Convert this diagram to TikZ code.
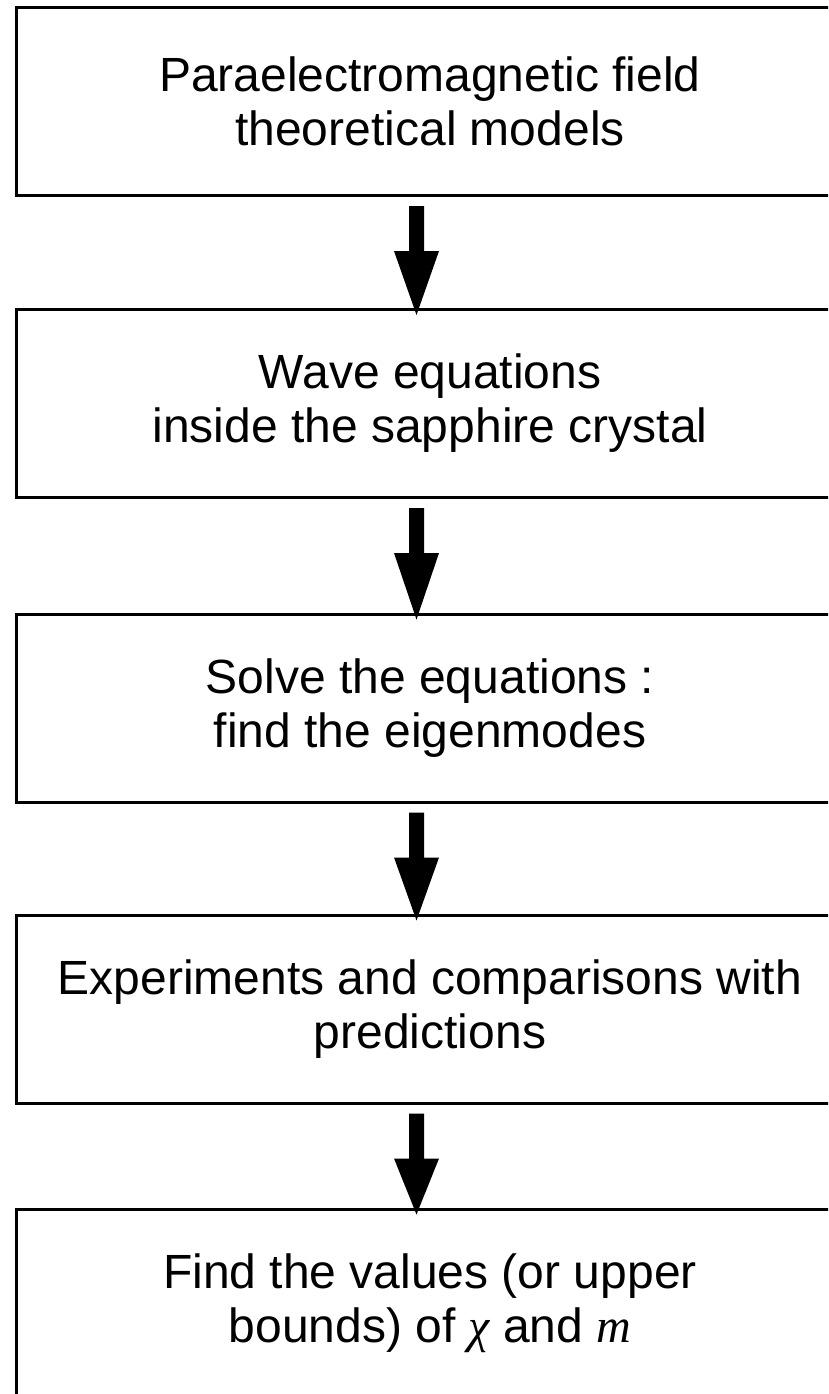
\documentclass[tikz,border=0pt]{standalone}
\usepackage{fontspec}
\setmainfont{Liberation Sans}
\newfontfamily\timesit{Liberation Serif}
\usetikzlibrary{calc}
\begin{document}
\begin{tikzpicture}[x=1pt,y=-1pt,
  stepbox/.style={draw, line width=3pt, rectangle, minimum width=828pt, minimum height=188pt,
    inner sep=0pt, align=center, font=\fontsize{48}{54}\selectfont},
  fatarrow/.style={fill=black}]
\clip (0,0) rectangle (828,1394);
\node[stepbox] (box1) at (430,101.5) {Paraelectromagnetic field\\theoretical models};
\node[stepbox] (box2) at (430,403.5) {Wave equations\\inside the sapphire crystal};
\node[stepbox] (box3) at (430,708) {Solve the equations :\\find the eigenmodes};
\node[stepbox] (box4) at (430,1009) {Experiments and comparisons with\\predictions};
\node[stepbox] (box5) at (430,1303) {Find the values (or upper\\bounds) of {\timesit\itshape χ} and {\timesit\itshape m}};
\foreach \a/\b in {1/2,2/3,3/4,4/5}{
  \fill[fatarrow] ($(box\a.south)+(-21,9)$) -- ++(15,0) -- ++(0,45) -- ++(15,0)
    -- ($(box\b.north)+(-13.5,7)$) -- ($(box\a.south)+(-36,54)$) -- ++(15,0) -- cycle;
}
\end{tikzpicture}
\end{document}
